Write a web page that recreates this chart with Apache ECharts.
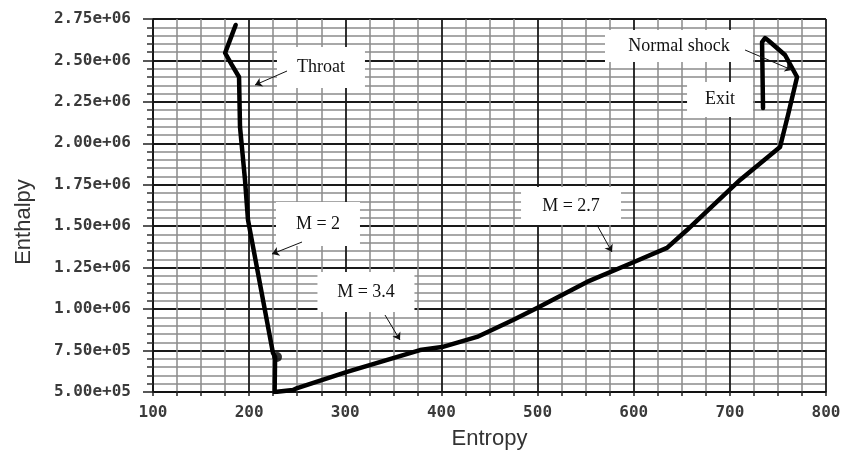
<!DOCTYPE html>
<html>
<head>
<meta charset="utf-8">
<script src="https://cdn.jsdelivr.net/npm/echarts@6/dist/echarts.min.js"></script>
<style>
html,body{margin:0;padding:0;background:#fff;}
#chart{width:844px;height:459px;}
</style>
</head>
<body>
<div id="chart"></div>
<script>
// ---- data ----
const entropy = [186, 182, 175, 182, 189.5, 190.5, 195.7, 198.8, 224.8, 227, 226.5, 245.6, 250, 301.8, 377.7, 400.6, 437, 474.5, 501.5, 551.4, 600.3, 634.6, 655.4, 710.6, 752.2, 754, 760.5, 769.9, 757.4, 740, 736.6, 733.5, 734.5];
const enthalpy = [2714000, 2653000, 2545000, 2473000, 2400000, 2099000, 1779000, 1538000, 735000, 711000, 500000, 512000, 524000, 621000, 753000, 771000, 832000, 934000, 1013000, 1164000, 1284000, 1369000, 1477000, 1779000, 1978000, 2020000, 2171000, 2400000, 2533000, 2620000, 2635000, 2611000, 2213000];
const markerEntropy = [229];
const markerEnthalpy = [711000];
const xTickLabels = ['100', '200', '300', '400', '500', '600', '700', '800'];
const yTickLabels = ['5.00e+05', '7.50e+05', '1.00e+06', '1.25e+06', '1.50e+06', '1.75e+06', '2.00e+06', '2.25e+06', '2.50e+06', '2.75e+06'];
const noteTexts = ['Throat', 'M = 2', 'M = 3.4', 'M = 2.7', 'Normal shock', 'Exit'];
const noteEntropy = [274.7, 271.6, 321.5, 534.8, 647.1, 689.8];
const noteEnthalpy = [2457400, 1513400, 1103200, 1622000, 2587100, 2264400];
const arrowFromEntropy = [239.4, 255.0, 341.3, 561.8, 715.8];
const arrowFromEnthalpy = [2436300, 1404800, 964500, 1507400, 2563000];
const arrowToEntropy = [206.1, 223.8, 356.9, 577.4, 764.6];
const arrowToEnthalpy = [2351900, 1332400, 813700, 1344500, 2442400];

// ---- styles ----
const noteBoxSizes = [[88, 41], [84, 44], [97, 40], [100, 38], [148, 32], [66, 35]];
const X_MIN = 100, X_MAX = 800, X_INT = 100;
const Y_MIN = 500000, Y_MAX = 2750000, Y_INT = 250000;

const chart = echarts.init(document.getElementById('chart'));

const curve = entropy.map((x, i) => [x, enthalpy[i]]);
const marker = markerEntropy.map((x, i) => [x, markerEnthalpy[i]]);

const notePoints = noteTexts.map((t, i) => ({
  name: t,
  coord: [noteEntropy[i], noteEnthalpy[i]],
  symbol: 'rect',
  symbolSize: noteBoxSizes[i],
  itemStyle: { color: '#fff', borderWidth: 0 },
  label: {
    show: true, position: 'inside', formatter: t,
    color: '#111', fontFamily: 'Liberation Serif', fontSize: 18
  }
}));
const arrows = arrowFromEntropy.map((x, i) => [
  { coord: [x, arrowFromEnthalpy[i]] },
  { coord: [arrowToEntropy[i], arrowToEnthalpy[i]] }
]);

const tickFont = { fontFamily: 'DejaVu Sans Mono', fontSize: 16, fontWeight: 'bold', color: '#3a3a3a' };

chart.setOption({
  animation: false,
  backgroundColor: '#fff',
  grid: { left: 153, right: 18, top: 19, bottom: 67, show: false },
  xAxis: {
    type: 'value', min: X_MIN, max: X_MAX, interval: X_INT,
    name: 'Entropy', nameLocation: 'middle', nameGap: 36,
    nameTextStyle: { fontFamily: 'Liberation Sans', fontSize: 22, color: '#333' },
    axisLine: { show: true, onZero: false, lineStyle: { color: '#111', width: 1.5 } },
    axisTick: { show: true, length: 4, lineStyle: { color: '#222', width: 1.5 } },
    minorTick: { show: true, splitNumber: 4, length: 4, lineStyle: { color: '#222', width: 1.5 } },
    splitLine: { show: true, lineStyle: { color: '#1a1a1a', width: 1.8 } },
    minorSplitLine: { show: true, lineStyle: { color: '#8a8a8a', width: 1.5 } },
    axisLabel: Object.assign({ margin: 13, formatter: v => xTickLabels[Math.round((v - X_MIN) / X_INT)] }, tickFont)
  },
  yAxis: {
    type: 'value', min: Y_MIN, max: Y_MAX, interval: Y_INT,
    name: 'Enthalpy', nameLocation: 'middle', nameGap: 118,
    nameTextStyle: { fontFamily: 'Liberation Sans', fontSize: 22, color: '#333', padding: [0, 33, 0, 0] },
    axisLine: { show: true, onZero: false, lineStyle: { color: '#111', width: 1.5 } },
    axisTick: { show: true, length: 10, lineStyle: { color: '#222', width: 1.5 } },
    minorTick: { show: true, splitNumber: 5, length: 6, lineStyle: { color: '#333', width: 1.5 } },
    splitLine: { show: true, lineStyle: { color: '#1a1a1a', width: 1.8 } },
    minorSplitLine: { show: true, lineStyle: { color: '#a8a8a8', width: 2 } },
    axisLabel: Object.assign({ margin: 22, formatter: v => yTickLabels[Math.round((v - Y_MIN) / Y_INT)] }, tickFont)
  },
  series: [
    {
      type: 'line', data: curve, showSymbol: false, smooth: false,
      lineStyle: { color: '#000', width: 4.5, join: 'round', cap: 'round' },
      z: 3,
      markPoint: { data: notePoints, z: 4, silent: true },
      markLine: {
        silent: true, symbol: ['none', 'arrow'], symbolSize: 7,
        lineStyle: { color: '#111', width: 1, type: 'solid' },
        label: { show: false },
        data: arrows, z: 5
      }
    },
    {
      type: 'scatter', data: marker, symbol: 'circle', symbolSize: 10,
      itemStyle: { color: '#000' }, z: 6
    }
  ]
});
</script>
</body>
</html>
